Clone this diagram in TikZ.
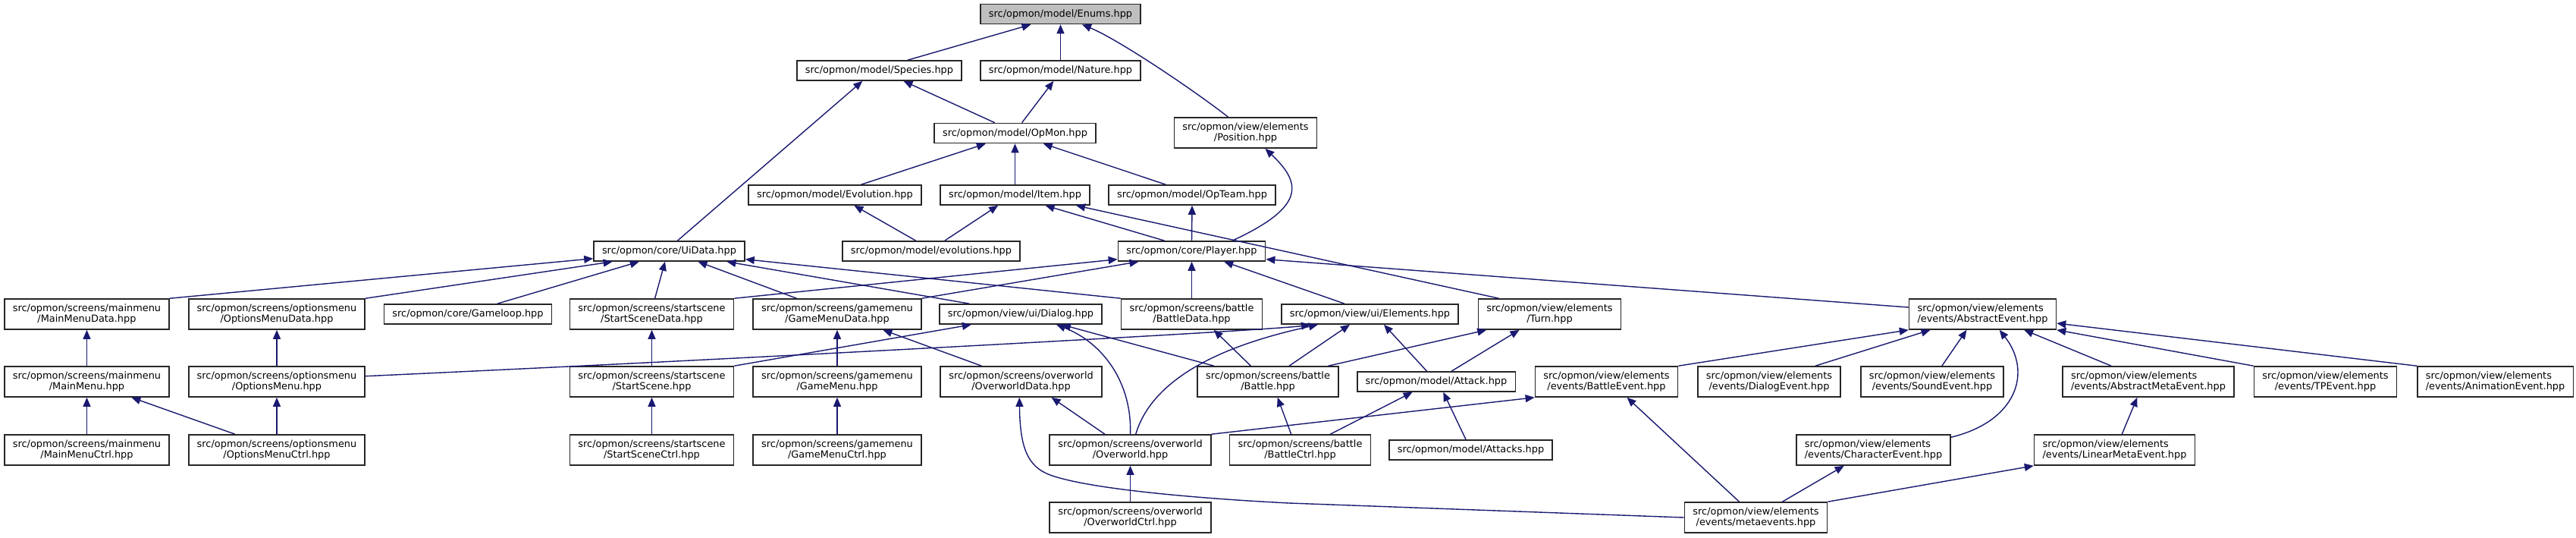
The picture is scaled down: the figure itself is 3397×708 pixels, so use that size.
\documentclass[tikz,border=0pt]{standalone}
\usepackage{fontspec}
\setmainfont{DejaVu Sans}
\usetikzlibrary{arrows.meta}
\definecolor{edgeblue}{RGB}{25,25,112}

\begin{document}
\begin{tikzpicture}[x=0.5pt,y=0.5pt,
  hfile/.style={draw=black!85, line width=0.8pt, fill=white, inner xsep=5.5pt, inner ysep=0pt,
    minimum height=13pt, align=center, font=\fontsize{6.45}{7.35}\selectfont},
  hpair/.style={hfile, minimum height=20pt},
  hpairl/.style={hpair, align=left},
  dep/.style={draw=edgeblue, line width=0.7pt, {Triangle[length=6pt,width=5pt]}-}]
\useasboundingbox (0,0) rectangle (3397,-708);

% fila 0-4: model y core
\node[hfile, fill=black!25] (enums) at (1398.5,-18.5) {src/opmon/model/Enums.hpp};
\node[hfile] (species) at (1159.5,-93) {src/opmon/model/Species.hpp};
\node[hfile] (nature) at (1398.5,-93) {src/opmon/model/Nature.hpp};
\node[hfile] (opmon) at (1338.5,-175.5) {src/opmon/model/OpMon.hpp};
\node[hpair] (position) at (1642.5,-175) {src/opmon/view/elements\\/Position.hpp};
\node[hfile] (evolution) at (1101,-257) {src/opmon/model/Evolution.hpp};
\node[hfile] (item) at (1338.5,-257) {src/opmon/model/Item.hpp};
\node[hfile] (opteam) at (1572,-257) {src/opmon/model/OpTeam.hpp};
\node[hfile] (uidata) at (882.5,-331) {src/opmon/core/UiData.hpp};
\node[hfile] (evolutions) at (1228,-331) {src/opmon/model/evolutions.hpp};
\node[hfile] (player) at (1571.5,-331) {src/opmon/core/Player.hpp};

% fila 5
\node[hpair] (mainmenudata) at (114.5,-414) {src/opmon/screens/mainmenu\\/MainMenuData.hpp};
\node[hpair] (optionsmenudata) at (365,-414) {src/opmon/screens/optionsmenu\\/OptionsMenuData.hpp};
\node[hfile] (gameloop) at (617,-414) {src/opmon/core/Gameloop.hpp};
\node[hpair] (startscenedata) at (859.5,-414) {src/opmon/screens/startscene\\/StartSceneData.hpp};
\node[hpair] (gamemenudata) at (1104,-414) {src/opmon/screens/gamemenu\\/GameMenuData.hpp};
\node[hfile] (dialog) at (1346,-414) {src/opmon/view/ui/Dialog.hpp};
\node[hpair] (battledata) at (1571.5,-414) {src/opmon/screens/battle\\/BattleData.hpp};
\node[hfile] (elements) at (1806.5,-414) {src/opmon/view/ui/Elements.hpp};
\node[hpair] (turn) at (2043.5,-414) {src/opmon/view/elements\\/Turn.hpp};
\node[hpairl] (abstractevent) at (2614.5,-414) {src/opmon/view/elements\\/events/AbstractEvent.hpp};

% fila 6
\node[hpair] (mainmenu) at (114.5,-503) {src/opmon/screens/mainmenu\\/MainMenu.hpp};
\node[hpair] (optionsmenu) at (365,-503) {src/opmon/screens/optionsmenu\\/OptionsMenu.hpp};
\node[hpair] (startscene) at (859.5,-503) {src/opmon/screens/startscene\\/StartScene.hpp};
\node[hpair] (gamemenu) at (1104,-503) {src/opmon/screens/gamemenu\\/GameMenu.hpp};
\node[hpair] (overworlddata) at (1346.5,-503) {src/opmon/screens/overworld\\/OverworldData.hpp};
\node[hpair] (battle) at (1672,-503) {src/opmon/screens/battle\\/Battle.hpp};
\node[hfile] (attack) at (1894,-503) {src/opmon/model/Attack.hpp};
\node[hpair] (battleevent) at (2118.5,-503) {src/opmon/view/elements\\/events/BattleEvent.hpp};
\node[hpair] (dialogevent) at (2333,-503) {src/opmon/view/elements\\/events/DialogEvent.hpp};
\node[hpair] (soundevent) at (2548,-503) {src/opmon/view/elements\\/events/SoundEvent.hpp};
\node[hpairl] (abstractmetaevent) at (2833,-503) {src/opmon/view/elements\\/events/AbstractMetaEvent.hpp};
\node[hpair] (tpevent) at (3066.5,-503) {src/opmon/view/elements\\/events/TPEvent.hpp};
\node[hpairl] (animationevent) at (3290.5,-503) {src/opmon/view/elements\\/events/AnimationEvent.hpp};

% fila 7-8
\node[hpair] (mainmenuctrl) at (114.5,-593) {src/opmon/screens/mainmenu\\/MainMenuCtrl.hpp};
\node[hpair] (optionsmenuctrl) at (365,-593) {src/opmon/screens/optionsmenu\\/OptionsMenuCtrl.hpp};
\node[hpair] (startscenectrl) at (859.5,-593) {src/opmon/screens/startscene\\/StartSceneCtrl.hpp};
\node[hpair] (gamemenuctrl) at (1104,-593) {src/opmon/screens/gamemenu\\/GameMenuCtrl.hpp};
\node[hpair] (overworld) at (1490.5,-593) {src/opmon/screens/overworld\\/Overworld.hpp};
\node[hpair] (battlectrl) at (1714.5,-593) {src/opmon/screens/battle\\/BattleCtrl.hpp};
\node[hfile] (attacks) at (1939.5,-593) {src/opmon/model/Attacks.hpp};
\node[hpairl] (characterevent) at (2470.5,-593) {src/opmon/view/elements\\/events/CharacterEvent.hpp};
\node[hpairl] (linearmetaevent) at (2788.5,-593) {src/opmon/view/elements\\/events/LinearMetaEvent.hpp};
\node[hpair] (overworldctrl) at (1490.5,-682) {src/opmon/screens/overworld\\/OverworldCtrl.hpp};
\node[hpair] (metaevents) at (2315.5,-682) {src/opmon/view/elements\\/events/metaevents.hpp};

% Enums, Species, Nature, OpMon
\draw[dep] ([xshift=-19.5pt]enums.south) -- ([xshift=18.75pt]species.north);
\draw[dep] (enums.south) -- (nature.north);
\draw[dep] ([xshift=14.25pt]enums.south) .. controls (1477,-53) and (1580,-123) .. ([xshift=-11.5pt]position.north);
\draw[dep] ([xshift=16pt]species.south) -- ([xshift=-13.35pt]opmon.north);
\draw[dep] ([xshift=-11.1pt]species.south) -- ([xshift=5.45pt]uidata.north);
\draw[dep] ([xshift=-4.6pt]nature.south) -- ([xshift=4.55pt]opmon.north);
\draw[dep] ([xshift=-19.3pt]opmon.south) -- ([xshift=17.3pt]evolution.north);
\draw[dep] (opmon.south) -- (item.north);
\draw[dep] ([xshift=18.6pt]opmon.south) -- ([xshift=-17.35pt]opteam.north);
\draw[dep] ([xshift=12.95pt]position.south) .. controls (1716,-241) and (1723,-272) .. ([xshift=26.75pt]player.north);
\draw[dep] ([xshift=12.7pt]evolution.south) -- ([xshift=-10.15pt]evolutions.north);
\draw[dep] ([xshift=-11.2pt]item.south) -- ([xshift=8.85pt]evolutions.north);
\draw[dep] ([xshift=20pt]item.south) -- ([xshift=-17.95pt]player.north);
\draw[dep] ([xshift=40.25pt]item.south) -- ([xshift=-33.5pt]turn.north);
\draw[dep] (opteam.south) -- (player.north);

% UiData
\draw[dep] ([yshift=-4.85pt]uidata.west) -- (mainmenudata.north east);
\draw[dep] ([xshift=-37.45pt]uidata.south) -- (optionsmenudata.north east);
\draw[dep] ([xshift=-19.85pt]uidata.south) -- ([xshift=19.4pt]gameloop.north);
\draw[dep] ([xshift=-2.75pt]uidata.south) -- ([xshift=2.05pt]startscenedata.north);
\draw[dep] ([xshift=19pt]uidata.south) -- ([xshift=-26.75pt]gamemenudata.north);
\draw[dep] ([xshift=37.95pt]uidata.south) -- ([xshift=-33.9pt]dialog.north);
\draw[dep] ([yshift=-5.35pt]uidata.east) -- (battledata.north west);

% Player
\draw[dep] ([yshift=-5.35pt]player.west) -- (startscenedata.north east);
\draw[dep] ([xshift=-35pt]player.south) -- (gamemenudata.north east);
\draw[dep] (player.south) -- (battledata.north);
\draw[dep] ([xshift=21.35pt]player.south) -- ([xshift=-16.75pt]elements.north);
\draw[dep] ([yshift=-5.35pt]player.east) -- ([yshift=4.5pt]abstractevent.west);

% fila 5 -> 6
\draw[dep] (mainmenudata.south) -- (mainmenu.north);
\draw[dep] (optionsmenudata.south) -- (optionsmenu.north);
\draw[dep] (startscenedata.south) -- (startscene.north);
\draw[dep] (gamemenudata.south) -- (gamemenu.north);
\draw[dep] ([xshift=30.2pt]gamemenudata.south) -- ([xshift=-26.05pt]overworlddata.north);
\draw[dep] ([xshift=-32.55pt]dialog.south) -- (startscene.north east);
\draw[dep] ([xshift=23.5pt]dialog.south) .. controls (1455,-452) and (1493,-505) .. (overworld.north);
\draw[dep] ([xshift=27pt]dialog.south) -- ([xshift=-35.65pt]battle.north);
\draw[dep] ([xshift=14.6pt]battledata.south) -- ([xshift=-11.3pt]battle.north);
\draw[dep] ([xshift=-39.25pt]elements.south) .. controls (1680,-435) and (1000,-472) .. ([yshift=3.65pt]optionsmenu.east);
\draw[dep] ([xshift=-34.25pt]elements.south) .. controls (1660,-445) and (1525,-480) .. ([xshift=3.6pt]overworld.north);
\draw[dep] ([xshift=-13.25pt]elements.south) -- ([xshift=14pt]battle.north);
\draw[dep] ([xshift=9.25pt]elements.south) -- ([xshift=-6.2pt]attack.north);
\draw[dep] ([xshift=-41.65pt]turn.south) -- ([xshift=39.75pt]battle.north);
\draw[dep] ([xshift=-20pt]turn.south) -- ([xshift=10pt]attack.north);
\draw[dep] (abstractevent.south west) -- (battleevent.north east);
\draw[dep] ([xshift=-34.5pt]abstractevent.south) -- ([xshift=30.4pt]dialogevent.north);
\draw[dep] ([xshift=-10.55pt]abstractevent.south) -- ([xshift=6.4pt]soundevent.north);
\draw[dep] ([xshift=11.1pt]abstractevent.south) .. controls (2680,-490) and (2660,-555) .. ([yshift=-2pt]characterevent.north east);
\draw[dep] ([xshift=27.35pt]abstractevent.south) -- ([xshift=-24.45pt]abstractmetaevent.north);
\draw[dep] (abstractevent.south east) -- (tpevent.north west);
\draw[dep] ([yshift=-6pt]abstractevent.east) -- (animationevent.north west);

% fila 6 -> 7 -> 8
\draw[dep] (mainmenu.south) -- (mainmenuctrl.north);
\draw[dep] ([xshift=29.45pt]mainmenu.south) -- ([xshift=-27.5pt]optionsmenuctrl.north);
\draw[dep] (optionsmenu.south) -- (optionsmenuctrl.north);
\draw[dep] (startscene.south) -- (startscenectrl.north);
\draw[dep] (gamemenu.south) -- (gamemenuctrl.north);
\draw[dep] ([xshift=20.05pt]overworlddata.south) -- ([xshift=-16.75pt]overworld.north);
\draw[dep] ([xshift=-1.1pt]overworlddata.south) .. controls (1345,-590) and (1355,-615) .. (1385,-626)
  .. controls (1440,-646) and (1600,-658) .. (1700,-663) -- (metaevents.west);
\draw[dep] ([xshift=6.35pt]battle.south) -- ([xshift=-5.9pt]battlectrl.north);
\draw[dep] ([xshift=-15.7pt]attack.south) -- ([xshift=19.85pt]battlectrl.north);
\draw[dep] ([xshift=4.65pt]attack.south) -- ([xshift=-3.25pt]attacks.north);
\draw[dep] (battleevent.south west) -- (overworld.north east);
\draw[dep] ([xshift=13.5pt]battleevent.south) -- ([xshift=-11pt]metaevents.north);
\draw[dep] ([xshift=-7.35pt]abstractmetaevent.south) -- ([xshift=4.85pt]linearmetaevent.north);
\draw[dep] (overworld.south) -- (overworldctrl.north);
\draw[dep] ([xshift=-19.4pt]characterevent.south) -- ([xshift=17.45pt]metaevents.north);
\draw[dep] (linearmetaevent.south west) -- (metaevents.north east);
\end{tikzpicture}
\end{document}
